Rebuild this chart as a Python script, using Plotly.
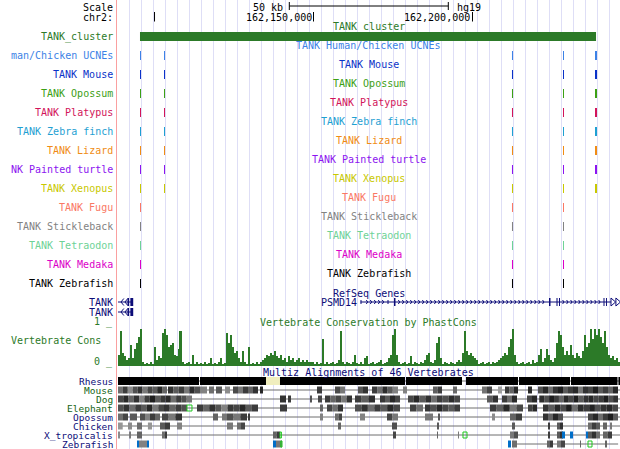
import plotly.graph_objects as go

W, H = 620, 449
FONT = "DejaVu Sans Mono"
NAVY = "rgb(12,12,120)"
DKGREEN = "rgb(44,122,40)"

# ---------------- data (chr2 positions, kb offset from 162,000,000) -------------
WIN_START, WIN_END = 88.20, 246.39
RULER_TICKS = [100.0, 150.0, 200.0]
RULER_LABELS = ["", "162,150,000", "162,200,000"]
SCALE_BAR_START, SCALE_BAR_KB = 142.39, 50.0

CLUSTER = [95.43, 238.85]

UCNE_ELEMENTS = [[95.43, 95.75], [102.98, 103.30], [212.42, 212.74],
                 [228.46, 228.78], [238.53, 239.16]]

SPECIES = ["Mouse", "Opossum", "Platypus", "Zebra finch", "Lizard",
           "Painted turtle", "Xenopus", "Fugu", "Stickleback", "Tetraodon",
           "Medaka", "Zebrafish"]
SPECIES_COLORS = ["rgb(10,50,200)", "rgb(60,160,20)", "rgb(210,20,90)",
                  "rgb(30,160,210)", "rgb(240,140,20)", "rgb(140,20,240)",
                  "rgb(200,200,0)", "rgb(250,120,100)", "rgb(130,130,130)",
                  "rgb(110,210,150)", "rgb(220,0,200)", "rgb(0,0,0)"]
SPECIES_HITS = [[0, 1, 2, 3, 4]] * 7 + [[0, 2, 3]] * 5
UCNE_COLOR = "rgb(60,130,230)"

# RefSeq genes
TANK_LINE = [88.51, 92.80]
TANK_EXONS = [[91.50, 92.00], [92.40, 93.30]]
TANK_ARROWS = [89.45, 90.70]   # tips of "<<" continuation arrows
PSMD14_LINE = [164.78, 243.55]
PSMD14_EXONS = [[164.78, 165.09, "utr"], [173.27, 173.59, "utr"],
                [175.31, 175.78, "cds"], [224.06, 224.53, "cds"],
                [226.42, 226.74, "cds"], [227.21, 227.52, "cds"],
                [241.20, 241.52, "cds"], [242.0, 242.3, "cds"]]
PSMD14_END_ARROWS = [243.55, 245.10]   # bases of ">>" continuation arrows

# Vertebrate conservation (fixed step wiggle)
CONS_START, CONS_STEP = 88.51, 0.629
CONS = [
    0.30, 0.90, 0.35, 0.25, 0.15, 0.20, 0.55, 0.20, 0.45, 0.60,
    0.75, 0.95, 0.10, 0.05, 0.08, 0.05, 0.10, 0.05, 0.50, 0.15,
    0.25, 0.20, 0.85, 0.95, 0.80, 0.50, 0.55, 0.60, 0.30, 0.25,
    0.45, 0.90, 0.10, 0.05, 0.08, 0.10, 0.05, 0.30, 0.05, 0.10,
    0.05, 0.08, 0.05, 0.10, 0.05, 0.08, 0.20, 0.05, 0.08, 0.05,
    0.10, 0.20, 0.05, 0.08, 0.85, 0.60, 0.80, 0.50, 0.35, 0.40,
    0.20, 0.10, 0.40, 0.10, 0.05, 0.50, 0.05, 0.08, 0.05, 0.10,
    0.05, 0.12, 0.15, 0.20, 0.30, 0.25, 0.35, 0.30, 0.40, 0.25,
    0.20, 0.30, 0.15, 0.20, 0.10, 0.25, 0.15, 0.20, 0.10, 0.15,
    0.20, 0.10, 0.15, 0.12, 0.15, 0.10, 0.12, 0.10, 0.05, 0.10,
    0.05, 0.08, 0.70, 0.05, 0.10, 0.05, 0.08, 0.10, 0.05, 0.08,
    0.15, 0.90, 0.10, 0.05, 0.12, 0.08, 0.05, 0.10, 0.30, 0.08,
    0.05, 0.10, 0.05, 0.20, 0.25, 0.05, 0.08, 0.10, 0.05, 0.08,
    0.10, 0.15, 0.05, 0.08, 0.10, 0.20, 0.30, 0.80, 0.95, 0.30,
    0.10, 0.05, 0.08, 0.10, 0.05, 0.08, 0.25, 0.05, 0.10, 0.08,
    0.05, 0.10, 0.08, 0.15, 0.30, 0.35, 0.10, 0.08, 0.15, 0.60,
    0.75, 0.20, 0.05, 0.10, 0.08, 0.05, 0.10, 0.08, 0.05, 0.10,
    0.15, 0.10, 0.35, 0.90, 0.40, 0.30, 0.35, 0.25, 0.20, 0.15,
    0.05, 0.08, 0.10, 0.05, 0.08, 0.10, 0.05, 0.10, 0.08, 0.12,
    0.15, 0.20, 0.25, 0.35, 0.30, 0.50, 0.70, 0.95, 0.30, 0.10,
    0.05, 0.08, 0.10, 0.05, 0.08, 0.10, 0.05, 0.15, 0.08, 0.10,
    0.30, 0.45, 0.10, 0.20, 0.45, 0.30, 0.15, 0.10, 0.20, 0.60,
    0.90, 0.80, 0.50, 0.30, 0.40, 0.30, 0.55, 0.30, 0.20, 0.35,
    0.25, 0.20, 0.40, 0.80, 0.50, 0.60, 0.95, 0.70, 0.95, 0.80,
    0.95, 0.75, 0.60, 0.90, 0.50, 0.30, 0.20, 0.25, 0.15, 0.20,
    0.10,
]

# Multiz alignments: [start_kb, end_kb, gray level(s) 0=black]; a list of grays splits the
# block evenly; "Y" pale (unaligned), "B" blue, "G" green box
MULTIZ_SPECIES = ["Rhesus", "Mouse", "Dog", "Elephant", "Opossum", "Chicken",
                  "X_tropicalis", "Zebrafish"]
MULTIZ_LABEL_COLORS = [NAVY, "rgb(20,100,20)", "rgb(20,100,20)", "rgb(20,100,20)",
                       NAVY, NAVY, NAVY, NAVY]
MULTIZ_LINE_SPANS = [[[88.51, 246.39]]] * 7 + [[[94.49, 98.26], [137.26, 140.09], [212.42, 245.8]]]
MULTIZ_BLOCKS = [
    [[88.51, 113.99, 0], [114.30, 135.06, 0], [135.06, 139.46, "Y"], [139.46, 178.77, 0],
     [179.09, 196.70, 0], [197.96, 214.31, 0], [214.63, 230.67, 0], [230.98, 245.6, 0],
     [245.9, 246.39, 0]],
    [[88.51, 103.92, [110, 60, 140, 80, 50, 120, 70, 90, 40, 100]],
     [104.24, 114.30, [50, 90, 60, 120, 45, 80]], [114.30, 116.50, 130],
     [117.13, 118.70, 110], [119.33, 121.22, 90], [122.16, 123.74, 140],
     [124.68, 132.54, [75, 120, 60, 100, 50]], [133.17, 134.11, 40],
     [151.10, 152.67, 60], [156.76, 159.90, [75, 120]], [163.99, 167.14, [85, 50]],
     [168.39, 176.57, [60, 110, 45, 90, 130]], [178.14, 179.40, 130],
     [187.58, 190.41, [95, 60]], [193.87, 195.13, 105], [202.99, 206.13, [115, 70]],
     [208.02, 209.28, 160], [210.22, 214.31, [60, 100, 40]], [217.46, 218.71, 40],
     [220.60, 245.76, [80, 40, 110, 50, 30, 90, 60, 40, 120, 50, 70, 30, 90, 60, 100, 40]]],
    [[88.51, 111.78, [70, 40, 100, 50, 130, 60, 30, 90, 55, 40, 110, 60, 80, 120]],
     [139.46, 141.35, 50], [141.98, 142.92, 60], [148.90, 149.52, 80],
     [151.41, 152.67, 70], [153.61, 162.10, [60, 100, 70, 120, 50]],
     [163.05, 169.34, [60, 95, 45]], [170.91, 177.20, [55, 90, 40, 70]],
     [179.72, 196.07, [70, 40, 90, 50, 110, 60, 80, 45, 70]], [204.56, 208.02, [90, 50]],
     [209.28, 214.0, [60, 110, 40]], [217.14, 220.29, [70, 40]],
     [221.0, 245.76, [45, 80, 30, 60, 100, 40, 70, 30, 90, 50, 40, 70, 60, 30, 80, 50]]],
    [[88.51, 110.21, [80, 50, 110, 60, 90, 40, 120, 70, 50, 100, 60, 80]],
     [110.21, 111.78, "G"], [113.36, 132.54, [60, 100, 50, 85, 130, 55, 70, 40, 90, 60]],
     [139.46, 141.66, 60], [152.04, 152.98, 100], [154.24, 159.27, [70, 110, 50]],
     [163.05, 177.20, [80, 50, 110, 60, 90, 40, 70]],
     [180.35, 184.43, [65, 110]], [185.06, 196.07, [55, 80, 40, 70, 90, 60]],
     [205.51, 215.88, [60, 95, 40, 120, 70]], [217.46, 220.29, [65, 40]],
     [222.17, 245.76, [50, 90, 40, 75, 30, 110, 45, 60, 35, 80, 50, 40, 70]]],
    [[88.51, 91.66, [110, 70]], [92.29, 94.49, 90], [95.43, 101.72, [80, 130, 60, 100]],
     [102.35, 108.64, [70, 120, 50]], [118.39, 119.96, 100], [121.22, 122.79, 120],
     [122.79, 129.08, [80, 120, 60]], [129.40, 130.03, 60],
     [152.04, 152.98, 130], [156.76, 158.96, [110, 70]], [164.62, 166.19, 130],
     [173.11, 176.57, [70, 120]], [185.06, 187.58, 120], [189.15, 189.78, 90],
     [206.13, 207.08, 140], [211.80, 215.57, [100, 60]], [222.17, 228.46, [50, 100, 40, 80]],
     [236.33, 245.76, [70, 40, 110, 60, 30, 90]]],
    [[88.51, 90.0, 150], [91.66, 92.92, 140], [94.49, 96.06, 110], [97.92, 99.20, 150],
     [101.72, 104.87, [90, 60]], [107.07, 108.64, 130], [122.79, 124.68, 120],
     [125.94, 128.45, [110, 70]], [157.70, 158.64, 100], [174.68, 176.26, 80],
     [188.84, 189.47, 90], [212.42, 213.37, 90], [223.75, 224.38, 60],
     [226.58, 228.46, [90, 50]], [236.33, 240.10, [110, 60, 90]], [241.04, 242.30, 100],
     [243.25, 243.87, 120]],
    [[88.51, 89.14, 140], [92.0, 92.6, 120], [94.49, 96.06, 100], [102.35, 103.92, [110, 60]],
     [137.26, 139.46, [100, 60]], [139.46, 139.9, "G"], [175.0, 175.94, 70],
     [188.84, 189.15, 100], [195.44, 195.75, 120], [197.01, 198.27, "G"],
     [211.80, 214.31, [120, 80]], [223.75, 224.38, 60], [226.58, 228.46, [90, 50]],
     [228.15, 229.09, "B"], [230.67, 231.61, "B"], [235.70, 236.33, "B"],
     [236.33, 240.10, [90, 50, 110]], [241.04, 243.87, [100, 60]]],
    [[94.49, 95.12, "B"], [95.12, 97.63, 130], [97.63, 98.26, "B"], [137.26, 138.20, "B"],
     [138.20, 140.09, 120], [139.7, 140.09, "G"], [211.17, 212.11, "B"], [212.42, 214.0, 110],
     [223.43, 225.32, [100, 60]], [226.58, 229.09, [120, 70]], [233.81, 234.12, 100],
     [236.33, 237.58, "G"], [241.67, 242.30, 100]],
]

# ---------------- layout constants (pixel rows) ----------------
LABEL_PX = 114
UCNE_LABEL_Y = 55
ROW_STEP = 19
MULTIZ_Y0, MULTIZ_STEP = 381, 9
CONS_TOP, CONS_BASE = 326.7, 366.0

fig = go.Figure()
shapes, ann = [], []

def label(text, y, color, x=LABEL_PX, size=10):
    ann.append(dict(text=text, x=x / W, xref="paper", y=y, yref="y", xanchor="right",
                    yanchor="middle", showarrow=False, borderpad=0,
                    font=dict(family=FONT, size=size, color=color)))

def title(text, y, color):
    ann.append(dict(text=text, x=0.5, xref="x domain", y=y, yref="y", xanchor="center",
                    yanchor="middle", showarrow=False, borderpad=0,
                    font=dict(family=FONT, size=10, color=color)))

def rect(x0, x1, y0, y1, color, line=None):
    d = dict(type="rect", xref="x", yref="y", x0=x0, x1=x1, y0=y0, y1=y1,
             fillcolor=color, line=dict(width=0))
    if line:
        d["fillcolor"] = "rgba(0,0,0,0)"
        d["line"] = dict(width=1, color=line)
    shapes.append(d)

def hline(x0, x1, y, color, width=1):
    shapes.append(dict(type="line", xref="x", yref="y", x0=x0, x1=x1, y0=y, y1=y,
                       line=dict(color=color, width=width)))

def vline(x, y0, y1, color, width=1):
    shapes.append(dict(type="line", xref="x", yref="y", x0=x, x1=x, y0=y0, y1=y1,
                       line=dict(color=color, width=width)))

# background grid (browser guide lines every 12 px) and left border
for k in range(41):
    px = 129.5 + 12 * k
    shapes.append(dict(type="line", xref="paper", yref="paper", x0=px / W, x1=px / W,
                       y0=0, y1=1, layer="below",
                       line=dict(color="rgb(222,222,246)", width=1)))
shapes.append(dict(type="line", xref="paper", yref="paper", x0=116.5 / W, x1=116.5 / W,
                   y0=0, y1=1, line=dict(color="rgb(250,160,160)", width=1)))

# scale and ruler
label("Scale", 7, "black")
label("chr2:", 17.5, "black")
sb0, sb1 = SCALE_BAR_START, SCALE_BAR_START + SCALE_BAR_KB
hline(sb0, sb1, 6, "black")
vline(sb0, 2, 10, "black")
vline(sb1, 2, 10, "black")
ann.append(dict(text="%d kb" % SCALE_BAR_KB, x=sb0, xref="x", y=7, yref="y",
                xanchor="right", xshift=-5, showarrow=False, borderpad=0,
                font=dict(family=FONT, size=10, color="black")))
ann.append(dict(text="hg19", x=sb1, xref="x", y=7, yref="y", xanchor="left", xshift=8,
                showarrow=False, borderpad=0, font=dict(family=FONT, size=10, color="black")))
for t, lab in zip(RULER_TICKS, RULER_LABELS):
    vline(t, 12, 21.5, "black")
    if lab:
        ann.append(dict(text=lab, x=t, xref="x", y=17.5, yref="y", xanchor="right",
                        xshift=-1, showarrow=False, borderpad=0,
                        font=dict(family=FONT, size=10, color="black")))

# TANK cluster
title("TANK_cluster", 27, DKGREEN)
label("TANK_cluster", 36.5, DKGREEN)
rect(CLUSTER[0], CLUSTER[1], 32, 41, DKGREEN)

# UCNE + species tracks
tracks = [("TANK Human/Chicken UCNEs", "man/Chicken UCNEs", UCNE_COLOR, [0, 1, 2, 3, 4])]
for sp, col, hits in zip(SPECIES, SPECIES_COLORS, SPECIES_HITS):
    full = "TANK " + sp
    tracks.append((full, full[-17:], col, hits))
for i, (full, short, col, hits) in enumerate(tracks):
    ly = UCNE_LABEL_Y + ROW_STEP * i
    title(full, ly - 9.5, col)
    label(short, ly, col)
    for h in hits:
        s, e = UCNE_ELEMENTS[h]
        rect(s, e, ly - 4, ly + 5, col)

# RefSeq genes
title("RefSeq Genes", 293, NAVY)
for ry in (302, 312):
    label("TANK", ry, NAVY)
    hline(TANK_LINE[0], TANK_LINE[1], ry, NAVY)
    for s, e in TANK_EXONS:
        rect(s, e, ry - 4, ry + 4, NAVY)
    for tip in TANK_ARROWS:
        shapes.append(dict(type="path", xref="x", yref="y",
                           path="M %f,%f L %f,%f L %f,%f" % (tip + 0.9, ry - 3.5, tip, ry,
                                                             tip + 0.9, ry + 3.5),
                           line=dict(color=NAVY, width=1)))

ann.append(dict(text="PSMD14", x=PSMD14_LINE[0], xref="x", y=302, yref="y",
                xanchor="right", xshift=-3, showarrow=False, borderpad=0,
                font=dict(family=FONT, size=10, color=NAVY)))
hline(PSMD14_LINE[0], PSMD14_LINE[1], 302, NAVY)
for s, e, kind in PSMD14_EXONS:
    hh = 2 if kind == "utr" else 4
    rect(s, e, 302 - hh, 302 + hh, NAVY)
# strand chevrons
cx, cy = [], []
pos = PSMD14_LINE[0] + 1.0
while pos < PSMD14_EXONS[-2][0] - 0.6:
    if all(not (s - 0.8 < pos < e + 0.8) for s, e, _ in PSMD14_EXONS):
        cx += [pos - 0.45, pos, pos - 0.45, None]
        cy += [300, 302, 304, None]
    pos += 1.26
fig.add_trace(go.Scatter(x=cx, y=cy, mode="lines", line=dict(color=NAVY, width=1),
                         hoverinfo="skip", showlegend=False))
for base in PSMD14_END_ARROWS:
    shapes.append(dict(type="path", xref="x", yref="y",
                       path="M %f,%f L %f,%f L %f,%f Z" % (base, 298, base + 1.45, 302,
                                                           base, 306),
                       line=dict(color=NAVY, width=1), fillcolor="white"))

# Conservation
title("Vertebrate Conservation by PhastCons", 322, DKGREEN)
label("Vertebrate Cons", 340, DKGREEN, x=102)
label("1 _", 322, DKGREEN)
label("0 _", 362, DKGREEN)
cons_x = [CONS_START + CONS_STEP * (i + 0.5) for i in range(len(CONS))]
fig.add_trace(go.Bar(x=cons_x, y=CONS, width=CONS_STEP, marker=dict(color=DKGREEN,
                     line=dict(width=0)), xaxis="x", yaxis="y2", showlegend=False,
                     hoverinfo="skip"))

# Multiz
title("Multiz Alignments of 46 Vertebrates", 372, NAVY)
for i, (sp, lc, spans, blocks) in enumerate(zip(MULTIZ_SPECIES, MULTIZ_LABEL_COLORS,
                                                MULTIZ_LINE_SPANS, MULTIZ_BLOCKS)):
    y = MULTIZ_Y0 + MULTIZ_STEP * i
    label(sp, y, lc, size=9.5)
    for s, e in spans:
        hline(s, e, y, "rgb(110,110,110)")
    hh = 4 if i == 0 else 3.5
    for s, e, g in blocks:
        if g == "Y":
            rect(s, e, y - hh, y + hh, "rgb(240,238,190)")
        elif g == "B":
            rect(s, e, y - hh, y + hh, "rgb(0,110,200)")
        elif g == "G":
            rect(s, e, y - hh + 0.5, y + hh - 0.5, None, line="rgb(30,200,30)")
        else:
            grays = g if isinstance(g, list) else [g]
            step = (e - s) / len(grays)
            for j, gv in enumerate(grays):
                rect(s + j * step, s + (j + 1) * step, y - hh, y + hh,
                     "rgb(%d,%d,%d)" % (gv, gv, gv))

fig.update_layout(
    width=W, height=H, margin=dict(l=0, r=0, t=0, b=0),
    paper_bgcolor="white", plot_bgcolor="rgba(0,0,0,0)", showlegend=False,
    bargap=0,
    xaxis=dict(domain=[117 / W, 1], range=[WIN_START, WIN_END], visible=False,
               fixedrange=True),
    yaxis=dict(domain=[0, 1], range=[H, 0], visible=False, fixedrange=True),
    yaxis2=dict(domain=[(H - CONS_BASE) / H, (H - CONS_TOP) / H], range=[0, 1],
                visible=False, fixedrange=True, anchor="x"),
    shapes=shapes, annotations=ann,
)
fig.write_html("out.html", config={"displayModeBar": False},
               post_script="document.body.style.margin='0px';"
                           "document.body.style.overflow='hidden';")
